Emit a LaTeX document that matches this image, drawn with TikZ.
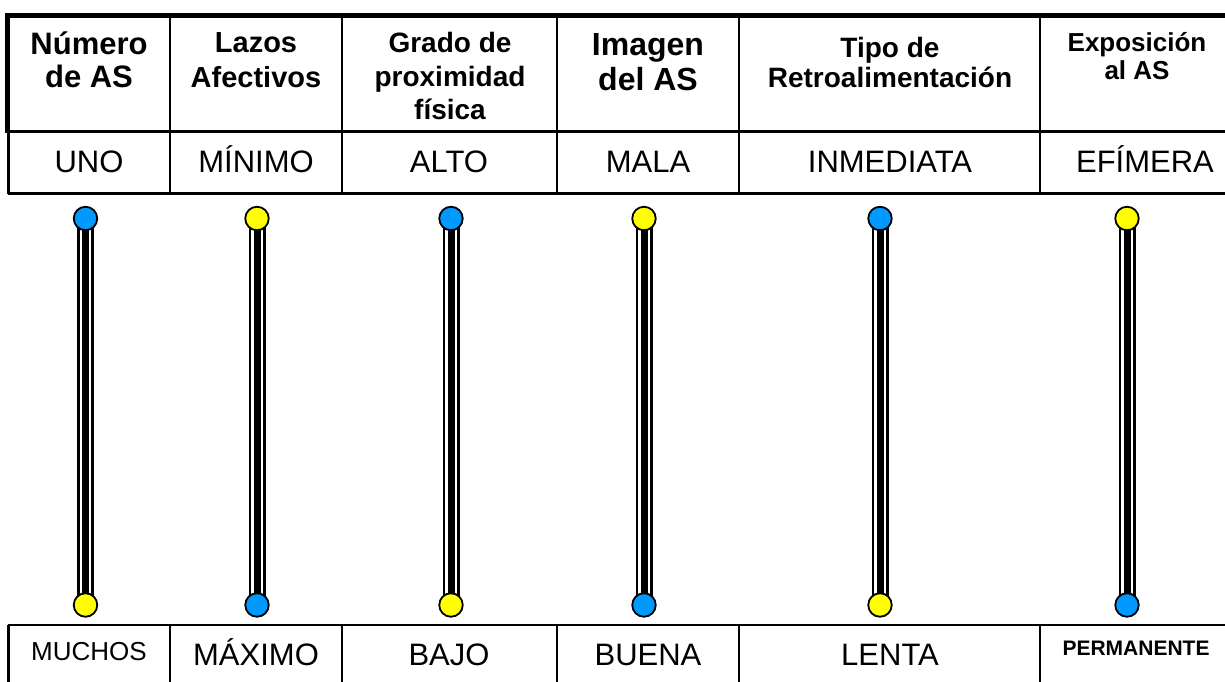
\documentclass[tikz,border=0pt]{standalone}
\usepackage{fontspec}
\setmainfont{Liberation Sans}
\usepackage{tikz}
\usetikzlibrary{backgrounds}
\definecolor{bulbblue}{RGB}{0,153,255}
\definecolor{bulbyellow}{RGB}{255,255,0}

\begin{document}
\begin{tikzpicture}[x=1pt, y=-1pt,
            head/.style = {align=center, anchor=base, inner sep=0pt,
                           font=\fontsize{29}{34}\selectfont\bfseries},
            val/.style = {anchor=base, inner sep=0pt,
                          font=\fontsize{31}{34}\selectfont},
            bulb/.style = {circle, draw, line width=1.8pt, minimum size=23.5pt,
                           inner sep=0pt},
            stem/.style = {draw, line width=7pt,
                           preaction={draw, line width=17pt},
                           preaction={draw, white, line width=11.6pt}},
            rule/.style = {line width=2.2pt}]
    \useasboundingbox (0,0) rectangle (1225,682);

    % upper table
    \draw[line width=5pt] (5,16) -- (1225,16);
    \draw[line width=5pt] (7.5,14) -- (7.5,133);
    \draw[rule] (8.5,131) -- (8.5,194);
    \draw[rule] (7,131.5) -- (1225,131.5);
    \draw[rule] (7.5,193.5) -- (1225,193.5);
    \draw[rule] (170,16) -- (170,194) (342,16) -- (342,194) (557,16) -- (557,194)
                (739,16) -- (739,194) (1040,16) -- (1040,194);

    % lower table
    \draw[rule] (7.5,625) -- (1225,625);
    \draw[rule] (8.5,625) -- (8.5,682);
    \draw[rule] (170,625) -- (170,682) (342,625) -- (342,682) (557,625) -- (557,682)
                (739,625) -- (739,682) (1040,625) -- (1040,682);

    \node[head, font=\fontsize{31}{33}\selectfont\bfseries] (h1) at (89,88) {Número\\de AS};
    \node[head, font=\fontsize{29}{35}\selectfont\bfseries] (h2) at (256,88) {Lazos\\Afectivos};
    \node[head, font=\fontsize{28}{33.5}\selectfont\bfseries] (h3) at (450,120) {Grado de\\proximidad\\física};
    \node[head, font=\fontsize{32}{35}\selectfont\bfseries] (h4) at (648,91) {Imagen\\del AS};
    \node[head, font=\fontsize{28}{30}\selectfont\bfseries] (h5) at (890,88) {Tipo de\\Retroalimentación};
    \node[head, font=\fontsize{26}{28}\selectfont\bfseries] (h6) at (1137,80) {Exposición\\al AS};

    \node[val] (v1) at (89,172) {UNO};
    \node[val] (v2) at (256,172) {MÍNIMO};
    \node[val] (v3) at (449,172) {ALTO};
    \node[val] (v4) at (648,172) {MALA};
    \node[val] (v5) at (890,172) {INMEDIATA};
    \node[val] (v6) at (1145,172) {EFÍMERA};

    \node[val, font=\fontsize{26}{30}\selectfont] (w1) at (89,660) {MUCHOS};
    \node[val] (w2) at (256,665) {MÁXIMO};
    \node[val] (w3) at (449,665) {BAJO};
    \node[val] (w4) at (648,665) {BUENA};
    \node[val] (w5) at (890,665) {LENTA};
    \node[val, font=\fontsize{21}{24}\selectfont\bfseries] (w6) at (1136,655) {PERMANENTE};

    % bulbs
    \node[bulb, fill=bulbblue] (t1) at (85.5,218.5) {};
    \node[bulb, fill=bulbyellow] (b1) at (85.5,605) {};
    \node[bulb, fill=bulbyellow] (t2) at (257,218.5) {};
    \node[bulb, fill=bulbblue] (b2) at (257,605) {};
    \node[bulb, fill=bulbblue] (t3) at (451,218.5) {};
    \node[bulb, fill=bulbyellow] (b3) at (451,605) {};
    \node[bulb, fill=bulbyellow] (t4) at (644,218.5) {};
    \node[bulb, fill=bulbblue] (b4) at (644,605) {};
    \node[bulb, fill=bulbblue] (t5) at (880,218.5) {};
    \node[bulb, fill=bulbyellow] (b5) at (880,605) {};
    \node[bulb, fill=bulbyellow] (t6) at (1127,218.5) {};
    \node[bulb, fill=bulbblue] (b6) at (1127,605) {};

    \begin{pgfonlayer}{background}
        \draw[stem] (t1.center) -- (b1.center);
        \draw[stem] (t2.center) -- (b2.center);
        \draw[stem] (t3.center) -- (b3.center);
        \draw[stem] (t4.center) -- (b4.center);
        \draw[stem] (t5.center) -- (b5.center);
        \draw[stem] (t6.center) -- (b6.center);
    \end{pgfonlayer}
\end{tikzpicture}
\end{document}
